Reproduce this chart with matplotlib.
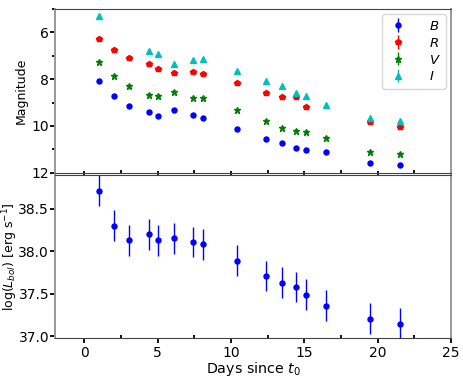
import numpy as np
import matplotlib.pyplot as plt
from matplotlib.ticker import MultipleLocator

plt.rcParams['font.size'] = 10

# epochs (days since t0)
days = [1.0, 2.05, 3.05, 4.4, 5.05, 6.1, 7.4, 8.1, 10.4, 12.4, 13.45, 14.45, 15.1, 16.5, 19.45, 21.5]

mag_B = [8.07, 8.71, 9.15, 9.42, 9.58, 9.32, 9.52, 9.68, 10.12, 10.57, 10.74, 10.94, 11.03, 11.10, 11.57, 11.66]
mag_V = [7.27, 7.87, 8.31, 8.67, 8.74, 8.54, 8.79, 8.81, 9.31, 9.80, 10.08, 10.22, 10.27, 10.53, 11.10, 11.19]

days_R = [1.0, 2.05, 3.05, 4.4, 5.05, 6.1, 7.4, 8.1, 10.4, 12.4, 13.45, 14.45, 15.1, 19.45, 21.5]
mag_R = [6.30, 6.74, 7.08, 7.35, 7.55, 7.74, 7.68, 7.77, 8.18, 8.58, 8.78, 8.78, 9.18, 9.85, 10.05]

days_I = [1.0, 4.4, 5.05, 6.1, 7.4, 8.1, 10.4, 12.4, 13.45, 14.45, 15.1, 16.5, 19.45, 21.5]
mag_I = [5.29, 6.79, 6.91, 7.34, 7.18, 7.13, 7.64, 8.07, 8.31, 8.59, 8.74, 9.09, 9.68, 9.80]

mag_err = 0.05

logL = [38.71, 38.30, 38.13, 38.20, 38.13, 38.15, 38.11, 38.08, 37.89, 37.71, 37.63, 37.58, 37.49, 37.36, 37.21, 37.15]
logL_err = 0.18

fig, (ax1, ax2) = plt.subplots(2, 1, figsize=(4.63, 3.77), dpi=100, sharex=True)
fig.subplots_adjust(left=0.119, right=0.974, top=0.976, bottom=0.103, hspace=0.012)

ax1.errorbar(days, mag_B, yerr=mag_err, fmt='o', color='b', ms=3.6, lw=1, label='$B$')
ax1.errorbar(days_R, mag_R, yerr=mag_err, fmt='p', color='r', ms=3.8, lw=1, label='$R$')
ax1.errorbar(days, mag_V, yerr=mag_err, fmt='*', color='g', ms=4.6, lw=1, label='$V$')
ax1.errorbar(days_I, mag_I, yerr=mag_err, fmt='^', color='c', ms=3.8, lw=1, label='$I$')
ax1.set_ylim(12, 5)
ax1.set_ylabel('Magnitude', fontsize=9)
ax1.yaxis.set_label_coords(-0.07, 0.5)
ax1.yaxis.set_major_locator(MultipleLocator(2))
ax1.yaxis.set_minor_locator(MultipleLocator(1))
ax1.legend(loc='upper right', handlelength=1.6, handletextpad=1.5, labelspacing=0.3,
           borderaxespad=0.4, fontsize=9.5)

ax2.errorbar(days, logL, yerr=logL_err, fmt='o', color='b', ms=3.6, lw=1)
ax2.set_ylim(36.98, 38.9)
ax2.set_xlim(-2, 25)
ax2.set_ylabel(r'log($L_{bol}$) [erg s$^{-1}$]', fontsize=9)
ax2.yaxis.set_label_coords(-0.088, 0.5)
ax2.set_xlabel('Days since $t_0$', fontsize=10.3, labelpad=0)
ax2.xaxis.set_major_locator(MultipleLocator(5))
ax2.xaxis.set_minor_locator(MultipleLocator(2.5))
ax2.yaxis.set_major_locator(MultipleLocator(0.5))

for ax in (ax1, ax2):
    ax.tick_params(axis='y', which='major', length=3.5, width=1.3, pad=0.8)
    ax.tick_params(axis='y', which='minor', length=2, width=1.3)
    ax.tick_params(axis='x', which='major', length=3.5, width=1.3, pad=2.2)
    ax.tick_params(axis='x', which='minor', length=2, width=1.3, direction='in')
    for s in ('left', 'right'):
        ax.spines[s].set_color('#999999')
        ax.spines[s].set_linewidth(1.4)
    for s in ('top', 'bottom'):
        ax.spines[s].set_color('#444444')
ax1.tick_params(axis='x', which='major', direction='inout')

plt.savefig('out.png')
